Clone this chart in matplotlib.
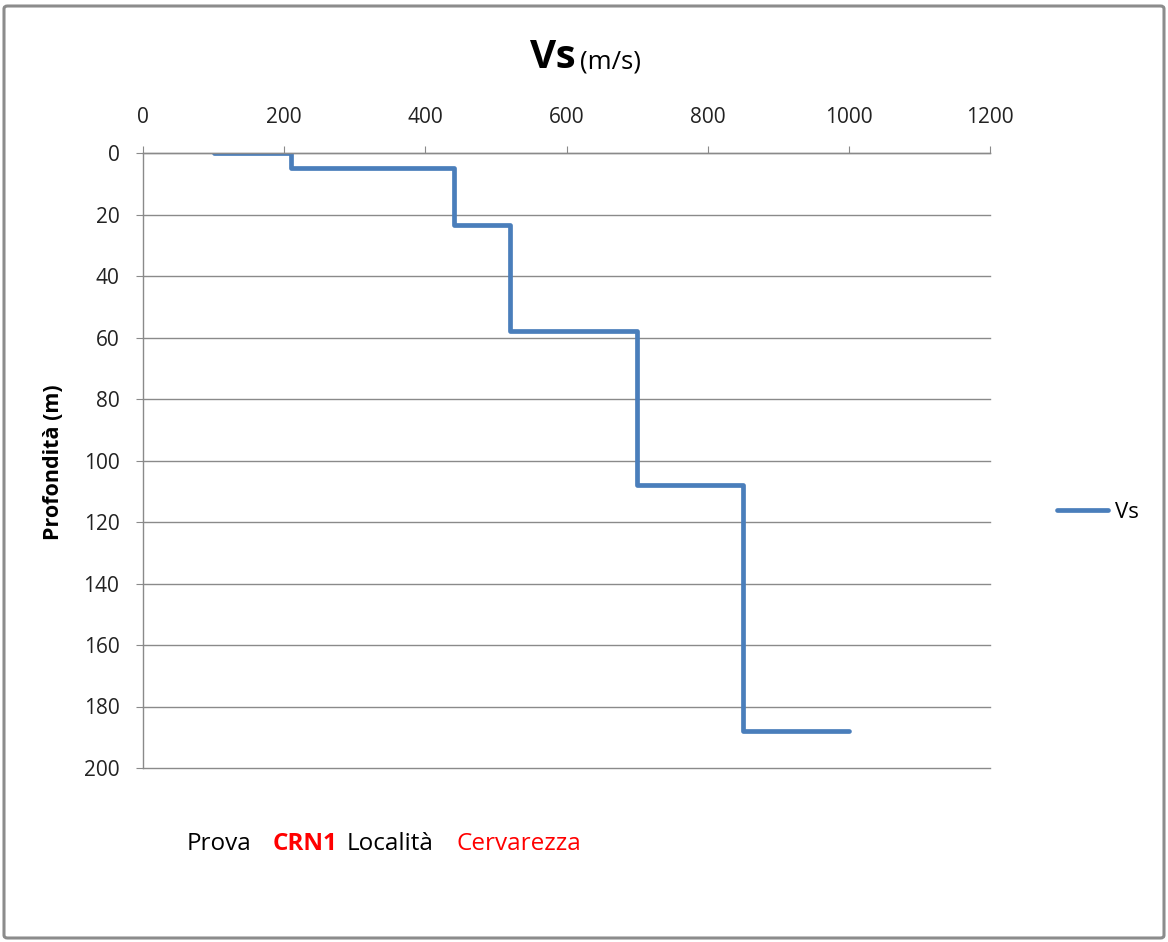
import matplotlib
matplotlib.use("Agg")
import matplotlib.pyplot as plt
from matplotlib.patches import FancyBboxPatch

# Data
vs_values = [100, 210, 210, 440, 440, 520, 520, 700, 700, 850, 850, 1000]
depths = [0, 0, 5, 5, 23.5, 23.5, 58, 58, 108, 108, 188, 188]
x_ticks = [0, 200, 400, 600, 800, 1000, 1200]
y_ticks = [0, 20, 40, 60, 80, 100, 120, 140, 160, 180, 200]

FONT = ["Open Sans", "DejaVu Sans"]
plt.rcParams['font.family'] = FONT

fig = plt.figure(figsize=(11.68, 9.42), dpi=100)
W, H = 1168, 942

# figure border
border = FancyBboxPatch((4 / W, 4 / H), 1 - 8 / W, 1 - 10 / H,
                        boxstyle="round,pad=0,rounding_size=0.003",
                        transform=fig.transFigure, fill=False,
                        edgecolor="#8c8c8c", linewidth=2.2)
fig.patches.append(border)

ax = fig.add_axes([143 / W, 1 - 768 / H, (990 - 143) / W, (768 - 153) / H])
ax.plot(vs_values, depths, color="#4A7EBB", linewidth=3.4,
        solid_capstyle="round", solid_joinstyle="round", label="Vs")

ax.set_xlim(0, 1200)
ax.set_ylim(200, 0)
ax.xaxis.tick_top()
ax.set_xticks(x_ticks)
ax.set_yticks(y_ticks)
ax.grid(axis="y", color="#8a8a8a", linewidth=1.0)
for gl in ax.get_ygridlines():
    gl.set_clip_on(False)
ax.set_axisbelow(True)
for s in ["right", "bottom"]:
    ax.spines[s].set_visible(False)
for s in ["top", "left"]:
    ax.spines[s].set_color("#8a8a8a")
    ax.spines[s].set_linewidth(1.0)
ax.tick_params(axis="x", direction="out", length=5, color="#8a8a8a",
               labelsize=15, labelcolor="#222222", pad=13)
ax.tick_params(axis="y", direction="out", length=5, color="#8a8a8a",
               labelsize=15, labelcolor="#222222", pad=12)
ax.set_ylabel("Profondità (m)", fontsize=15.5, fontweight="bold")
ax.yaxis.set_label_coords(-0.093, 0.497)

# title
fig.text(576 / W, 1 - 58 / H, "Vs", fontsize=29, fontweight="bold",
         ha="right", va="center")
fig.text(580 / W, 1 - 62 / H, "(m/s)", fontsize=18.5, ha="left", va="center")

# legend
leg = fig.legend(loc="center left", bbox_to_anchor=(1037 / W, 1 - 512 / H),
                 frameon=False, fontsize=16, handlelength=2.3,
                 handletextpad=0.3)

# bottom text
yb = 1 - 844 / H
fs = 17.5
fig.text(187 / W, yb, "Prova", fontsize=fs, color="black", va="center")
fig.text(273 / W, yb, "CRN1", fontsize=fs, color="red", fontweight="bold", va="center")
fig.text(347 / W, yb, "Località", fontsize=fs, color="black", va="center")
fig.text(457 / W, yb, "Cervarezza", fontsize=fs, color="red", va="center")

fig.savefig("out.png", dpi=100)
